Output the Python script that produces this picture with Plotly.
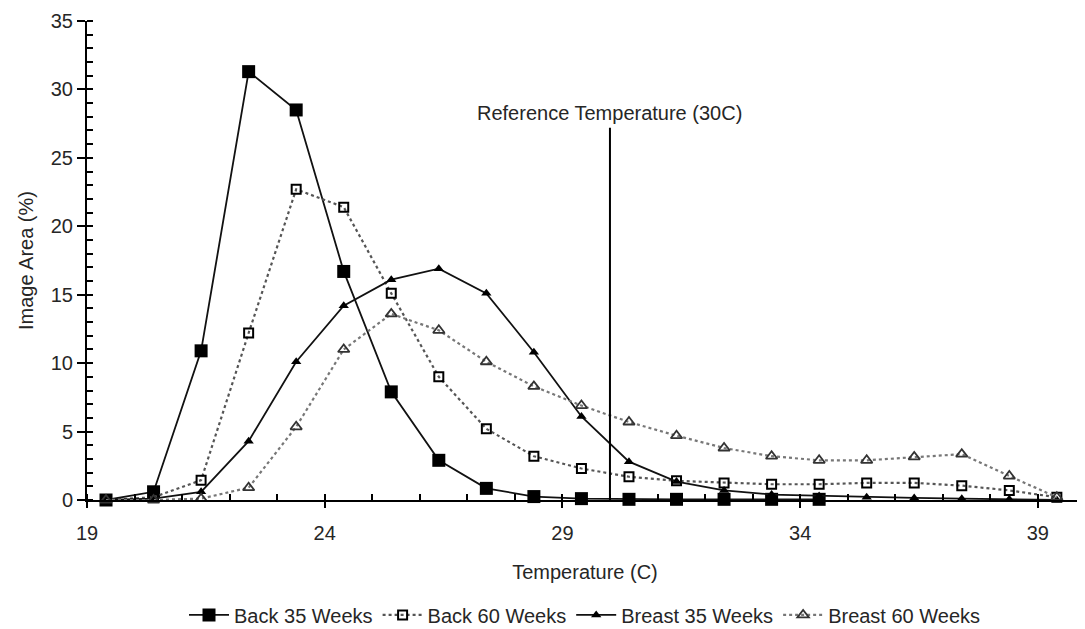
import plotly.graph_objects as go

temperature = [19.4, 20.4, 21.4, 22.4, 23.4, 24.4, 25.4, 26.4, 27.4, 28.4, 29.4,
               30.4, 31.4, 32.4, 33.4, 34.4, 35.4, 36.4, 37.4, 38.4, 39.4]

back_35 = [0.0, 0.6, 10.9, 31.3, 28.5, 16.7, 7.9, 2.9, 0.85, 0.25, 0.1,
           0.05, 0.05, 0.05, 0.05, 0.05, None, None, None, None, None]
back_60 = [0.0, 0.2, 1.45, 12.2, 22.7, 21.4, 15.1, 9.0, 5.2, 3.2, 2.3,
           1.7, 1.4, 1.25, 1.15, 1.15, 1.25, 1.25, 1.05, 0.7, 0.2]
breast_35 = [0.0, 0.1, 0.6, 4.3, 10.1, 14.2, 16.1, 16.9, 15.1, 10.8, 6.1,
             2.8, 1.35, 0.7, 0.4, 0.3, 0.2, 0.15, 0.1, 0.05, 0.0]
breast_60 = [0.0, 0.0, 0.1, 0.9, 5.35, 11.0, 13.6, 12.4, 10.1, 8.3, 6.9,
             5.7, 4.7, 3.8, 3.2, 2.9, 2.9, 3.15, 3.35, 1.75, 0.2]

series_names = ["Back 35 Weeks", "Back 60 Weeks", "Breast 35 Weeks", "Breast 60 Weeks"]
x_ticks = [19, 24, 29, 34, 39]
ref_temp = 30
ref_top = 27.2
ref_label = "Reference Temperature (30C)"

FONT = "Liberation Sans, Arial, sans-serif"
TXT = "#262626"
FS = 20

fig = go.Figure()
fig.add_trace(go.Scatter(
    x=temperature, y=back_35, name=series_names[0], mode="lines+markers",
    line=dict(color="#111111", width=1.8),
    marker=dict(symbol="square", size=13, color="#000000"),
    cliponaxis=False))
fig.add_trace(go.Scatter(
    x=temperature, y=back_60, name=series_names[1], mode="lines+markers",
    line=dict(color="#555555", width=2.2, dash="dot"),
    marker=dict(symbol="square-open", size=9, color="#000000", line=dict(width=2)),
    cliponaxis=False))
fig.add_trace(go.Scatter(
    x=temperature, y=breast_35, name=series_names[2], mode="lines+markers",
    line=dict(color="#111111", width=1.8),
    marker=dict(symbol="triangle-up", size=9, color="#000000"),
    cliponaxis=False))
fig.add_trace(go.Scatter(
    x=temperature, y=breast_60, name=series_names[3], mode="lines+markers",
    line=dict(color="#777777", width=2.2, dash="dot"),
    marker=dict(symbol="triangle-up-open", size=10, color="#333333", line=dict(width=1.8)),
    cliponaxis=False))

fig.add_shape(type="line", xref="x", yref="y", x0=ref_temp, x1=ref_temp, y0=0, y1=ref_top,
              line=dict(color="#000000", width=2))
fig.add_annotation(x=ref_temp, y=ref_top, xref="x", yref="y", text=ref_label,
                   showarrow=False, yanchor="bottom", yshift=2,
                   font=dict(family=FONT, size=FS, color=TXT))

fig.update_layout(
    width=1077, height=621,
    margin=dict(l=79, r=2, t=13, b=129, autoexpand=False),
    paper_bgcolor="white", plot_bgcolor="white",
    font=dict(family=FONT, size=FS, color=TXT),
    showlegend=True,
    legend=dict(orientation="h", x=0.5, xanchor="center", y=-0.24, yanchor="middle",
                font=dict(family=FONT, size=FS, color=TXT),
                itemwidth=40, tracegroupgap=0),
)
fig.update_xaxes(
    range=[19, 39.95], tickvals=x_ticks, ticktext=[str(v) for v in x_ticks],
    automargin=False,
    showgrid=False, zeroline=False, showline=True, linecolor="#000000", linewidth=2,
    ticks="outside", ticklen=6, tickwidth=1.5, tickcolor="#000000",
    ticklabelstandoff=8,
    minor=dict(dtick=1, tick0=19, ticks="inside", ticklen=6, tickwidth=1.5, tickcolor="#000000"),
    title=dict(text="Temperature (C)", font=dict(family=FONT, size=FS), standoff=22),
    tickfont=dict(family=FONT, size=FS, color=TXT),
)
fig.update_yaxes(
    range=[0, 35], dtick=5, tick0=0,
    automargin=False,
    showgrid=False, zeroline=False, showline=True, linecolor="#000000", linewidth=2,
    ticks="outside", ticklen=8, tickwidth=1.5, tickcolor="#000000",
    minor=dict(dtick=1, ticks="inside", ticklen=6, tickwidth=1.5, tickcolor="#000000"),
    title=dict(text="Image Area (%)", font=dict(family=FONT, size=FS), standoff=12),
    tickfont=dict(family=FONT, size=FS, color=TXT),
)

fig.write_html("out.html")
